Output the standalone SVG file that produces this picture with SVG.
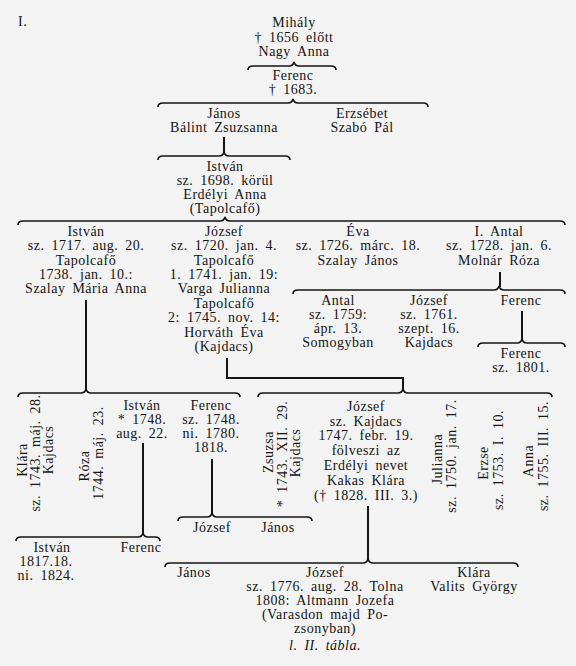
<svg xmlns="http://www.w3.org/2000/svg" width="576" height="666" viewBox="0 0 576 666">
<style>
text{font-family:"Liberation Serif","Times New Roman",serif;font-size:14px;fill:#141414;letter-spacing:0.5px;word-spacing:3px;text-anchor:middle}
.l{text-anchor:start}
.it{font-style:italic}
.br{fill:none;stroke:#141414;stroke-width:1.7}
.ln{fill:none;stroke:#141414;stroke-width:2}
</style>
<rect width="576" height="666" fill="#f3f3f3"/>
<g id="connectors">
<path class="br" d="M248,70 Q248,66 253,66 L289,66 Q293,66 294,62 Q295,66 299,66 L331,66 Q336,66 336,70"/>
<path class="br" d="M158,107 Q158,103 163,103 L288,103 Q292,103 293,99 Q294,103 298,103 L423,103 Q428,103 428,107"/>
<path class="ln" d="M224,137 V153"/>
<path class="br" d="M158,160 Q158,156 163,156 L219,156 Q223,156 224,152 Q225,156 229,156 L285,156 Q290,156 290,160"/>
<path class="br" d="M18,225 Q18,221 23,221 L220,221 Q224,221 225,217 Q226,221 230,221 L560,221 Q565,221 565,225"/>
<path class="ln" d="M500,272 V287"/>
<path class="br" d="M293,294 Q293,290 298,290 L494,290 Q498,290 499,286 Q500,290 504,290 L560,290 Q565,290 565,294"/>
<path class="ln" d="M522,311 V340"/>
<path class="br" d="M478,347 Q478,343 483,343 L517,343 Q521,343 522,339 Q523,343 527,343 L560,343 Q565,343 565,347"/>
<path class="ln" d="M86,300 V390"/>
<path class="br" d="M18,397 Q18,393 23,393 L81,393 Q85,393 86,389 Q87,393 91,393 L235,393 Q240,393 240,397"/>
<path class="ln" d="M227,358 V378 H403 V390"/>
<path class="br" d="M258,397 Q258,393 263,393 L398,393 Q402,393 403,389 Q404,393 408,393 L547,393 Q552,393 552,397"/>
<path class="ln" d="M143,443 V534"/>
<path class="br" d="M16,541 Q16,537 21,537 L138,537 Q142,537 143,533 Q144,537 148,537 L155,537 Q160,537 160,541"/>
<path class="ln" d="M212,459 V514"/>
<path class="br" d="M178,521 Q178,517 183,517 L207,517 Q211,517 212,513 Q213,517 217,517 L307,517 Q312,517 312,521"/>
<path class="ln" d="M368,506 V560"/>
<path class="br" d="M165,567 Q165,563 170,563 L363,563 Q367,563 368,559 Q369,563 373,563 L513,563 Q518,563 518,567"/>
</g>
<g id="label-table"><text class="l" x="18" y="26">I.</text></g>
<g id="n-mihaly">
<text x="294" y="27">Mihály</text>
<text x="294" y="42">† 1656 előtt</text>
<text x="294" y="56">Nagy Anna</text>
</g>
<g id="n-ferenc1683">
<text x="293" y="80">Ferenc</text>
<text x="293" y="94">† 1683.</text>
</g>
<g id="n-janos">
<text x="224" y="118">János</text>
<text x="224" y="132">Bálint Zsuzsanna</text>
</g>
<g id="n-erzsebet">
<text x="362" y="118">Erzsébet</text>
<text x="362" y="132">Szabó Pál</text>
</g>
<g id="n-istvan1698">
<text x="225" y="171">István</text>
<text x="225" y="185">sz. 1698. körül</text>
<text x="225" y="199">Erdélyi Anna</text>
<text x="225" y="213">(Tapolcafő)</text>
</g>
<g id="n-istvan1717">
<text x="86" y="236">István</text>
<text x="86" y="250">sz. 1717. aug. 20.</text>
<text x="86" y="265">Tapolcafő</text>
<text x="86" y="279">1738. jan. 10.:</text>
<text x="86" y="293">Szalay Mária Anna</text>
</g>
<g id="n-jozsef1720">
<text x="224" y="236">József</text>
<text x="224" y="250">sz. 1720. jan. 4.</text>
<text x="224" y="265">Tapolcafő</text>
<text x="224" y="279">1. 1741. jan. 19:</text>
<text x="224" y="293">Varga Julianna</text>
<text x="224" y="308">Tapolcafő</text>
<text x="224" y="322">2: 1745. nov. 14:</text>
<text x="224" y="337">Horváth Éva</text>
<text x="224" y="351">(Kajdacs)</text>
</g>
<g id="n-eva">
<text x="358" y="236">Éva</text>
<text x="358" y="250">sz. 1726. márc. 18.</text>
<text x="358" y="265">Szalay János</text>
</g>
<g id="n-antal1728">
<text x="499" y="236">I. Antal</text>
<text x="499" y="250">sz. 1728. jan. 6.</text>
<text x="499" y="265">Molnár Róza</text>
</g>
<g id="n-antal1759">
<text x="338" y="305">Antal</text>
<text x="338" y="319">sz. 1759:</text>
<text x="338" y="333">ápr. 13.</text>
<text x="338" y="347">Somogyban</text>
</g>
<g id="n-jozsef1761">
<text x="429" y="305">József</text>
<text x="429" y="319">sz. 1761.</text>
<text x="429" y="333">szept. 16.</text>
<text x="429" y="347">Kajdacs</text>
</g>
<g id="n-ferenc-antal"><text x="521" y="305">Ferenc</text></g>
<g id="n-ferenc1801">
<text x="521" y="358">Ferenc</text>
<text x="521" y="372">sz. 1801.</text>
</g>
<g id="n-klara1743">
<text transform="translate(27,460) rotate(-90)">Klára</text>
<text transform="translate(40,453) rotate(-90)">sz. 1743. máj. 28.</text>
<text transform="translate(53,450) rotate(-90)">Kajdacs</text>
</g>
<g id="n-roza">
<text transform="translate(89,466) rotate(-90)">Róza</text>
<text transform="translate(103,453) rotate(-90)">1744. máj. 23.</text>
</g>
<g id="n-istvan1748">
<text x="142" y="410">István</text>
<text x="142" y="424">* 1748.</text>
<text x="142" y="438">aug. 22.</text>
</g>
<g id="n-ferenc1748">
<text x="211" y="410">Ferenc</text>
<text x="211" y="424">sz. 1748.</text>
<text x="211" y="438">ni. 1780.</text>
<text x="211" y="452">1818.</text>
</g>
<g id="n-zsuzsa">
<text transform="translate(273,452) rotate(-90)">Zsuzsa</text>
<text transform="translate(287,454) rotate(-90)">* 1743. XII. 29.</text>
<text transform="translate(300,453) rotate(-90)">Kajdacs</text>
</g>
<g id="n-jozsef1747">
<text x="366" y="411">József</text>
<text x="366" y="426">sz. Kajdacs</text>
<text x="366" y="440">1747. febr. 19.</text>
<text x="366" y="455">fölveszi az</text>
<text x="366" y="470">Erdélyi nevet</text>
<text x="366" y="485">Kakas Klára</text>
<text x="366" y="500">(† 1828. III. 3.)</text>
</g>
<g id="n-julianna">
<text transform="translate(442,459) rotate(-90)">Julianna</text>
<text transform="translate(456,456) rotate(-90)">sz. 1750. jan. 17.</text>
</g>
<g id="n-erzse">
<text transform="translate(488,463) rotate(-90)">Erzse</text>
<text transform="translate(503,460) rotate(-90)">sz. 1753. I. 10.</text>
</g>
<g id="n-anna">
<text transform="translate(533,461) rotate(-90)">Anna</text>
<text transform="translate(548,456) rotate(-90)">sz. 1755. III. 15.</text>
</g>
<g id="n-istvan1817">
<text x="52" y="552">István</text>
<text x="46" y="566">1817.18.</text>
<text x="46" y="580">ni. 1824.</text>
</g>
<g id="n-ferenc-istvan"><text x="141" y="552">Ferenc</text></g>
<g id="n-jozsef-ferenc"><text x="212" y="532">József</text></g>
<g id="n-janos-ferenc"><text x="278" y="532">János</text></g>
<g id="n-janos-bottom"><text x="194" y="577">János</text></g>
<g id="n-jozsef1776">
<text x="325" y="577">József</text>
<text x="325" y="591">sz. 1776. aug. 28. Tolna</text>
<text x="325" y="605">1808: Altmann Jozefa</text>
<text x="325" y="619">(Varasdon majd Po-</text>
<text x="325" y="633">zsonyban)</text>
<text x="325" y="650" class="it">l. II. tábla.</text>
</g>
<g id="n-klara-bottom">
<text x="474" y="577">Klára</text>
<text x="474" y="591">Valits György</text>
</g>
</svg>
